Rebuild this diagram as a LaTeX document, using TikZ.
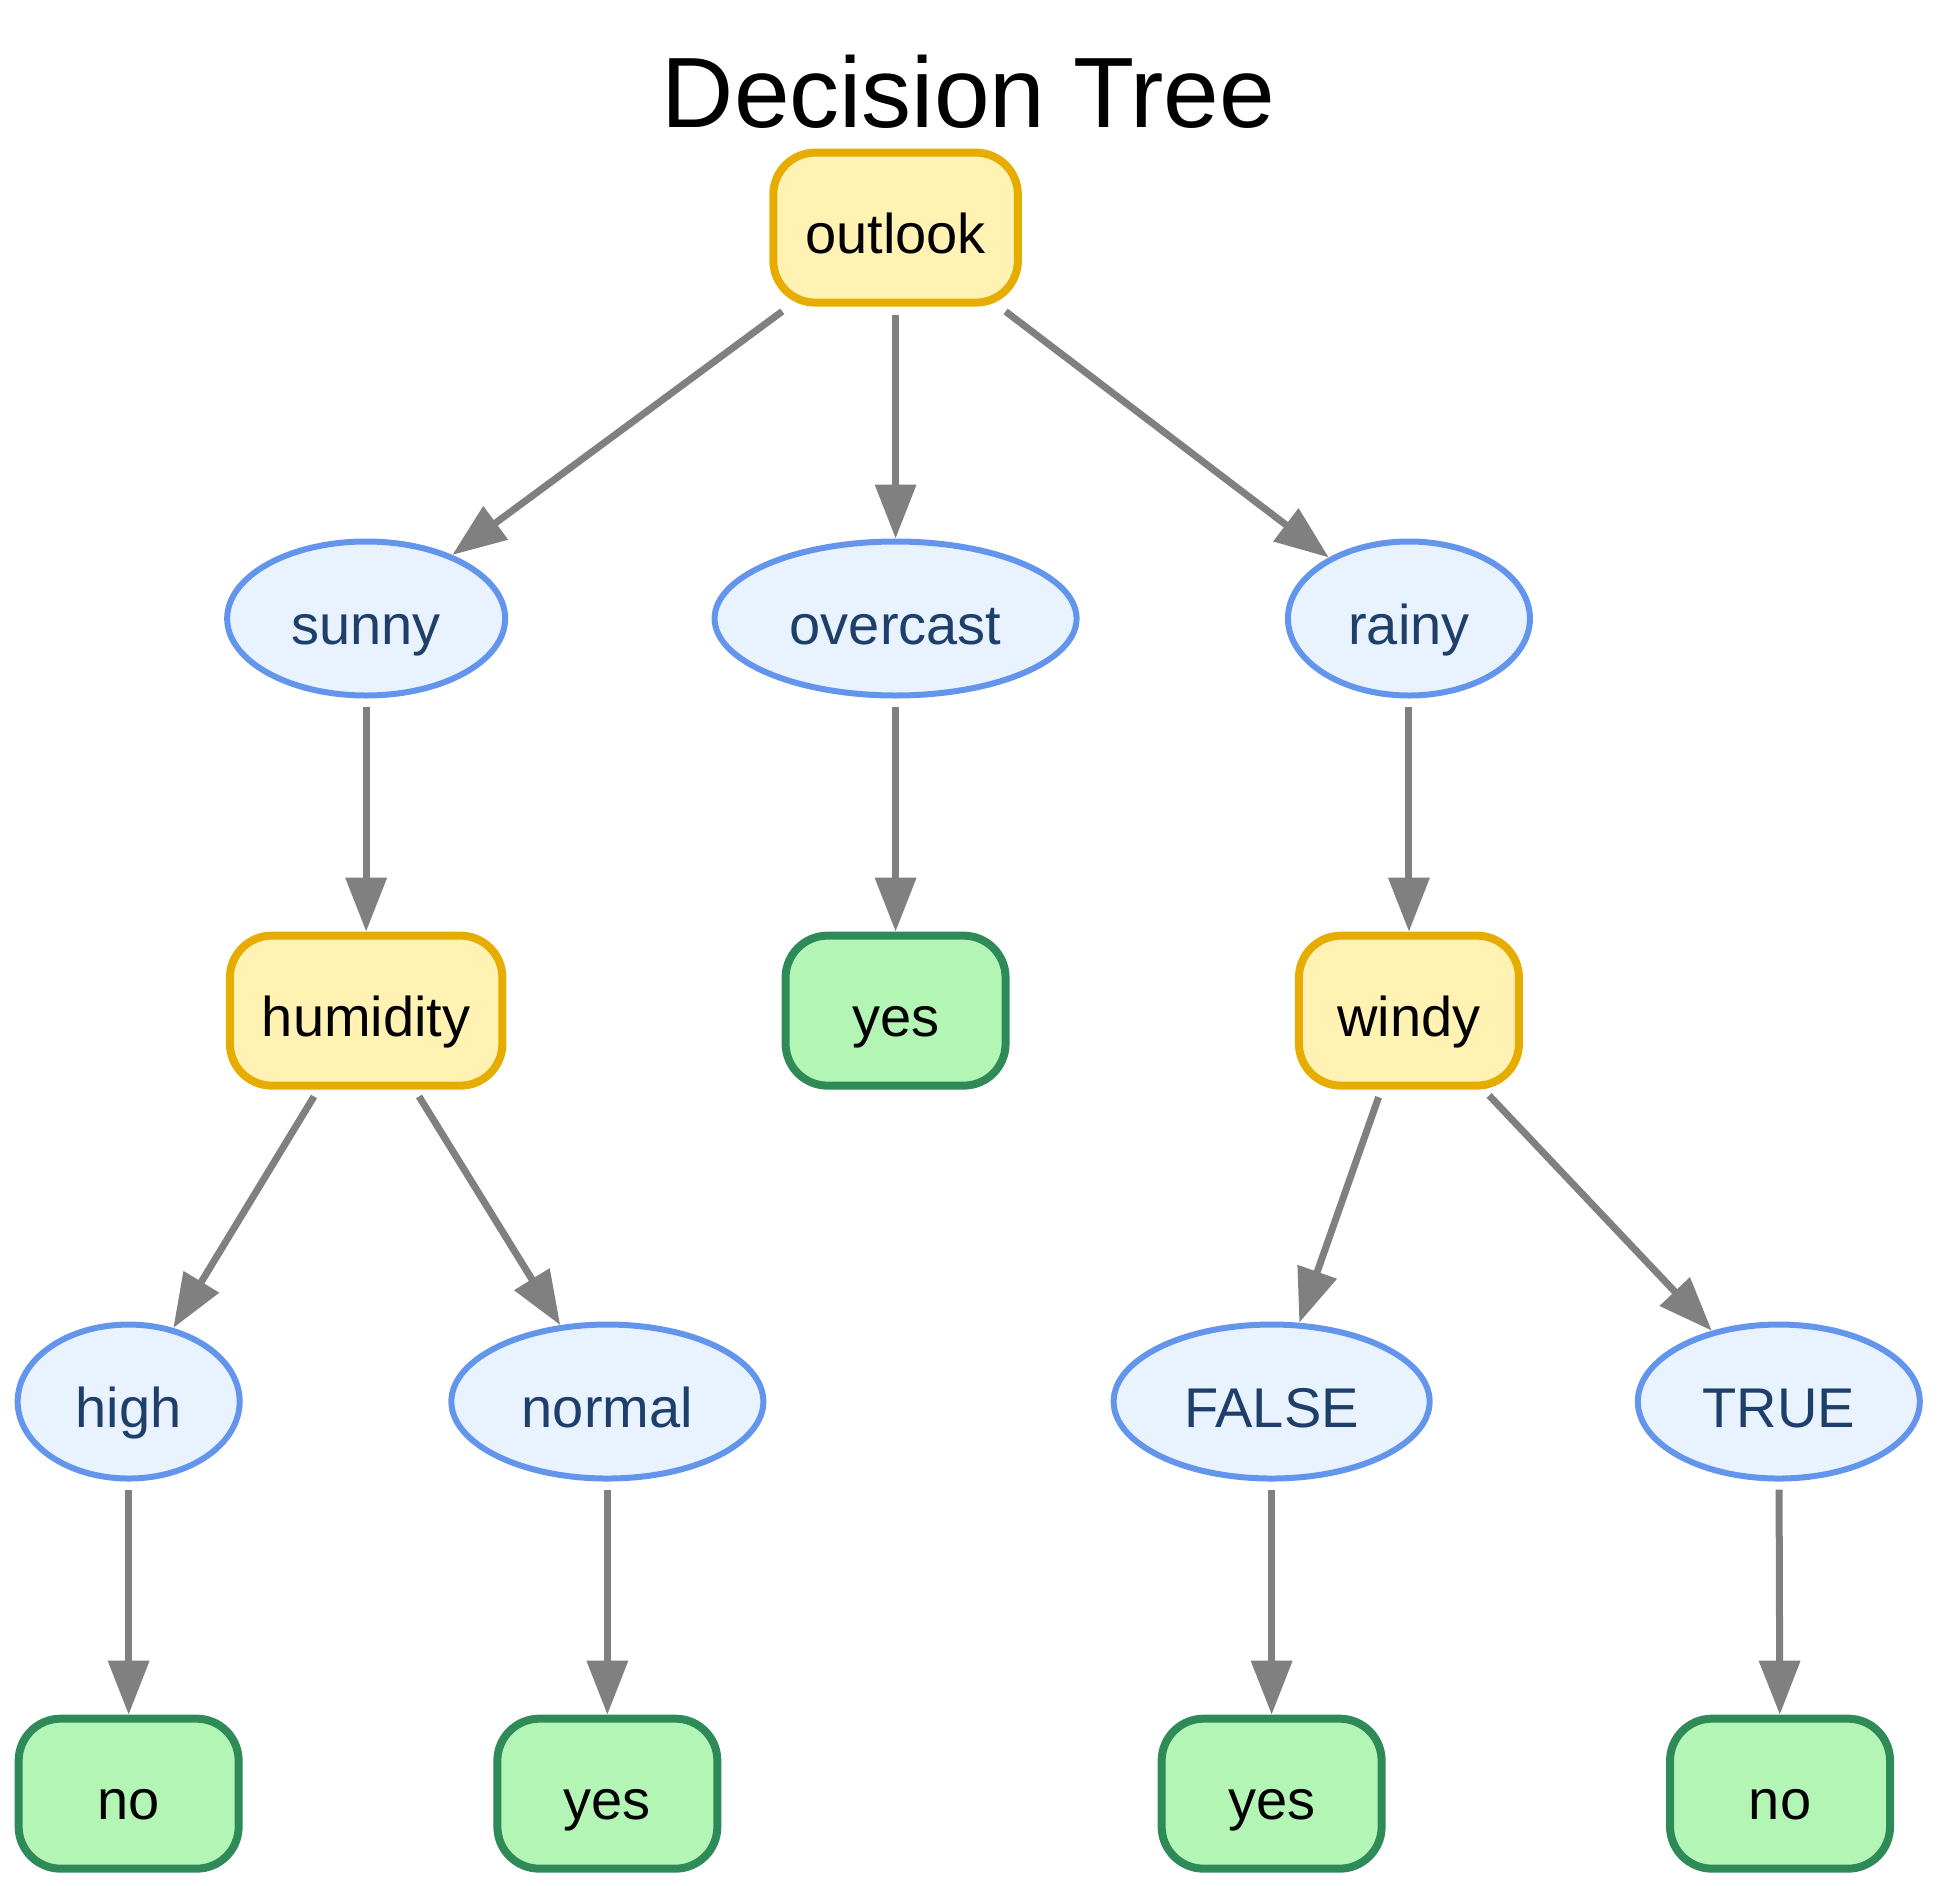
\documentclass[tikz,border=0pt]{standalone}
\usepackage{fontspec}
\setmainfont{Liberation Sans}
\usetikzlibrary{arrows.meta, shapes.geometric}
\tikzstyle{treeCanvas} = [x = 0.6185pt, y = -0.6185pt]
\definecolor{decisionFill}{HTML}{FFF2B3}
\definecolor{decisionLine}{HTML}{E6AC00}
\definecolor{valueFill}{HTML}{E8F3FF}
\definecolor{valueLine}{HTML}{6495ED}
\definecolor{valueText}{HTML}{1F3F6B}
\definecolor{leafFill}{HTML}{B3F5B5}
\definecolor{leafLine}{HTML}{2E8B57}
\definecolor{edgeColor}{HTML}{808080}
\tikzstyle{nodeText} = [font=\fontsize{28}{34}\selectfont, text height=30pt, text depth=4.5pt]
\tikzstyle{decisionStyle} = [nodeText, draw=decisionLine, fill=decisionFill, line width=4pt, rounded corners = 21pt, minimum height=75pt, minimum width=110pt, inner xsep=16pt]
\tikzstyle{leafStyle} = [nodeText, draw=leafLine, fill=leafFill, line width=4pt, rounded corners = 21pt, minimum height=75pt, minimum width=110pt]
\tikzstyle{valueStyle} = [nodeText, ellipse, draw=valueLine, fill=valueFill, text=valueText, line width=3pt, minimum height=77pt, inner sep=0pt]
\tikzstyle{edgeStyle} = [draw=edgeColor, line width=3.5pt, -{Triangle[length=27pt, width=20pt]}, shorten <= 4pt]
\newcommand{\decisionNode}[4]{\node [decisionStyle] (#1) at (#2, #3) {#4};}
\newcommand{\valueNode}[5]{\node [valueStyle, minimum width = #4pt] (#1) at (#2, #3) {#5};}
\newcommand{\leafNode}[4]{\node [leafStyle] (#1) at (#2, #3) {#4};}
\newcommand{\treeEdge}[2]{\draw [edgeStyle] (#1) -- (#2);}

\begin{document}
\begin{tikzpicture}[treeCanvas]
          \useasboundingbox (0,0) rectangle (1567.5,1524.5);
          \node [font=\fontsize{50}{58}\selectfont, anchor=base] (title) at (783, 103) {Decision Tree};

          \decisionNode{outlook}{724}{184}{outlook}
          \valueNode{sunny}{296}{500}{139}{sunny}
          \valueNode{overcast}{724}{500}{181}{overcast}
          \valueNode{rainy}{1139}{500}{121}{rainy}

          \decisionNode{humidity}{296}{817}{humidity}
          \leafNode{overcastYes}{724}{817}{yes}
          \decisionNode{windy}{1139}{817}{windy}

          \valueNode{high}{104}{1133}{111}{high}
          \valueNode{normal}{491}{1133}{156}{normal}
          \valueNode{false}{1028}{1133}{158}{FALSE}
          \valueNode{true}{1438}{1133}{141}{TRUE}

          \leafNode{highNo}{104}{1450}{no}
          \leafNode{normalYes}{491}{1450}{yes}
          \leafNode{falseYes}{1028}{1450}{yes}
          \leafNode{trueNo}{1439}{1450}{no}

          \treeEdge{outlook}{sunny}
          \treeEdge{outlook}{overcast}
          \treeEdge{outlook}{rainy}
          \treeEdge{sunny}{humidity}
          \treeEdge{overcast}{overcastYes}
          \treeEdge{rainy}{windy}
          \treeEdge{humidity}{high}
          \treeEdge{humidity}{normal}
          \treeEdge{windy}{false}
          \treeEdge{windy}{true}
          \treeEdge{high}{highNo}
          \treeEdge{normal}{normalYes}
          \treeEdge{false}{falseYes}
          \treeEdge{true}{trueNo}
        \end{tikzpicture}
\end{document}
